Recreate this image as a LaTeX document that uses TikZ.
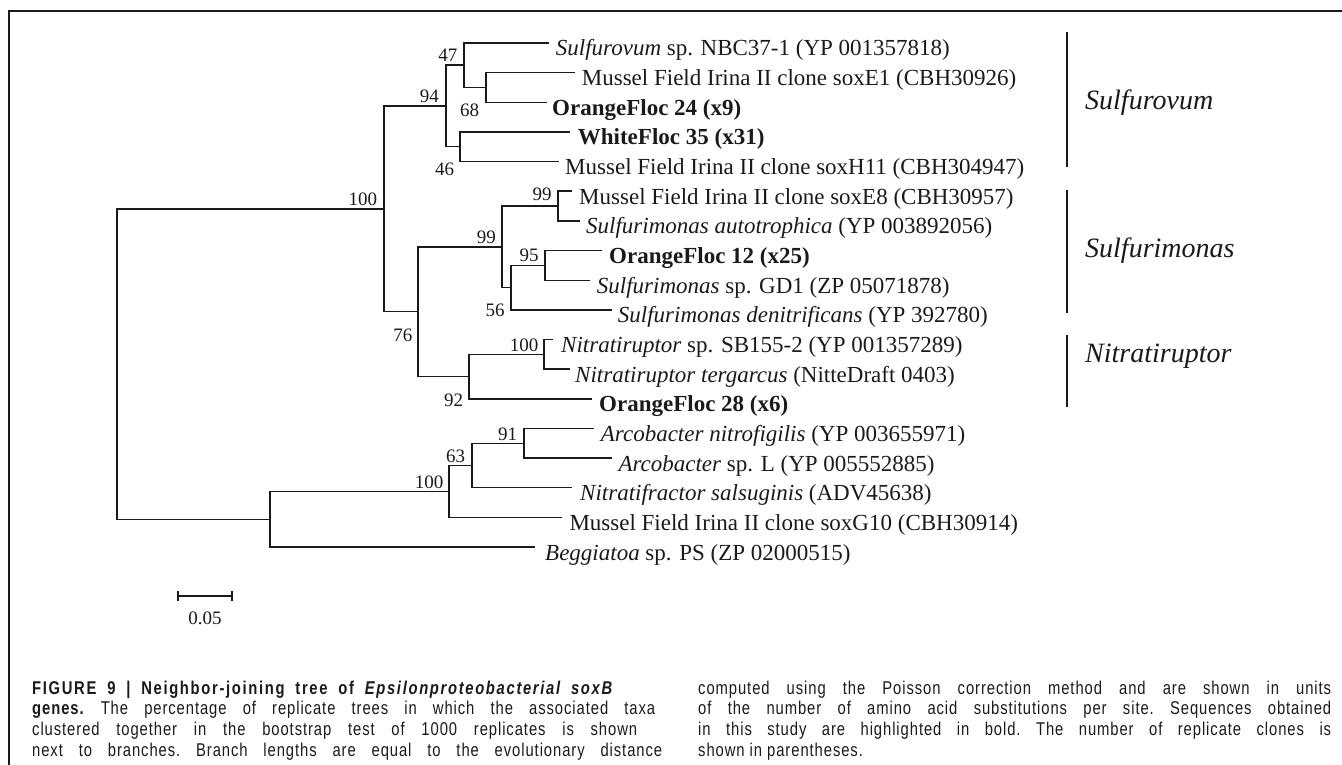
\documentclass[tikz,border=0pt]{standalone}
\usepackage{fontspec}
\setmainfont{Liberation Serif}
\newfontfamily\capfont[FakeStretch=0.8,LetterSpace=5]{Liberation Sans}
\definecolor{ink}{HTML}{1A1A1A}
\begin{document}
\begin{tikzpicture}[x=1pt,y=-1pt,
  br/.style={draw=ink, line width=1.4pt},
  leaf/.style={anchor=base west, inner sep=0pt, text=ink, font=\fontsize{23}{27}\selectfont},
  bs/.style={inner sep=0pt, text=ink, font=\fontsize{19}{22}\selectfont},
  clade/.style={anchor=base west, inner sep=0pt, text=ink, font=\fontsize{28}{32}\selectfont\itshape},
  cladebar/.style={draw=ink, line width=1.5pt},
  capline/.style={anchor=base west, inner sep=0pt, text=ink, font=\capfont\fontsize{18.5}{21}\selectfont\frenchspacing}]
\path[use as bounding box] (0,0) rectangle (1342,765);
% frame
\draw[draw=ink, line width=2pt] (1342,11) -- (9,11) -- (9,765);

% internal nodes
\coordinate (root) at (117,364);
\coordinate (n100a) at (384,208.8);
\coordinate (nB) at (270,519.2);
\coordinate (n94) at (446,105.9);
\coordinate (n76) at (418,311.7);
\coordinate (n47) at (464,65);
\coordinate (n46) at (460,146.7);
\coordinate (n68) at (486,87.5);
\coordinate (n99a) at (502,246.8);
\coordinate (n92) at (469,376.5);
\coordinate (n99b) at (558,206);
\coordinate (n56) at (511,287.6);
\coordinate (n95) at (545,265.4);
\coordinate (n100c) at (544,354.3);
\coordinate (n100b) at (449,491.4);
\coordinate (n63) at (472,465.5);
\coordinate (n91) at (524,443.3);
% tips
\coordinate (t1) at (549,43);
\coordinate (t2) at (575,72.6);
\coordinate (t3) at (547,102.3);
\coordinate (t4) at (570,131.9);
\coordinate (t5) at (559,161.6);
\coordinate (t6) at (572,191.2);
\coordinate (t7) at (580,220.9);
\coordinate (t8) at (602,250.5);
\coordinate (t9) at (590,280.2);
\coordinate (t10) at (612,309.8);
\coordinate (t11) at (553,339.5);
\coordinate (t12) at (570,369.1);
\coordinate (t13) at (592,398.8);
\coordinate (t14) at (594,428.4);
\coordinate (t15) at (612,458.1);
\coordinate (t16) at (572,487.7);
\coordinate (t17) at (562,517.4);
\coordinate (t18) at (535,547);

\foreach \p/\c in {root/n100a, root/nB, n100a/n94, n100a/n76, n94/n47, n94/n46,
  n47/t1, n47/n68, n68/t2, n68/t3, n46/t4, n46/t5, n76/n99a, n76/n92,
  n99a/n99b, n99a/n56, n99b/t6, n99b/t7, n56/n95, n56/t10, n95/t8, n95/t9,
  n92/n100c, n92/t13, n100c/t11, n100c/t12, nB/n100b, nB/t18,
  n100b/n63, n100b/t17, n63/n91, n63/t16, n91/t14, n91/t15}
  \draw[br] (\p) |- (\c);

% leaf labels
\node[leaf] (L1) at (555.7,56) {\textit{Sulfurovum} sp. NBC37-1 (YP 001357818)};
\node[leaf] (L2) at (581.7,85.6) {Mussel Field Irina II clone soxE1 (CBH30926)};
\node[leaf] (L3) at (552,115.3) {\textbf{OrangeFloc 24 (x9)}};
\node[leaf] (L4) at (577.7,144.9) {\textbf{WhiteFloc 35 (x31)}};
\node[leaf] (L5) at (565,174.6) {Mussel Field Irina II clone soxH11 (CBH304947)};
\node[leaf] (L6) at (579,204.2) {Mussel Field Irina II clone soxE8 (CBH30957)};
\node[leaf] (L7) at (586,233.9) {\textit{Sulfurimonas autotrophica} (YP 003892056)};
\node[leaf] (L8) at (609,263.5) {\textbf{OrangeFloc 12 (x25)}};
\node[leaf] (L9) at (596.7,293.2) {\textit{Sulfurimonas} sp. GD1 (ZP 05071878)};
\node[leaf] (L10) at (617.7,322.8) {\textit{Sulfurimonas denitrificans} (YP 392780)};
\node[leaf] (L11) at (561,352.5) {\textit{Nitratiruptor} sp. SB155-2 (YP 001357289)};
\node[leaf] (L12) at (575,382.1) {\textit{Nitratiruptor tergarcus} (NitteDraft 0403)};
\node[leaf] (L13) at (599,411.8) {\textbf{OrangeFloc 28 (x6)}};
\node[leaf] (L14) at (600.7,441.4) {\textit{Arcobacter nitrofigilis} (YP 003655971)};
\node[leaf] (L15) at (618.3,471.1) {\textit{Arcobacter} sp. L (YP 005552885)};
\node[leaf] (L16) at (580,500.7) {\textit{Nitratifractor salsuginis} (ADV45638)};
\node[leaf] (L17) at (569.3,530.4) {Mussel Field Irina II clone soxG10 (CBH30914)};
\node[leaf] (L18) at (545,560) {\textit{Beggiatoa} sp. PS (ZP 02000515)};

% bootstrap values
\node[bs] (b47) at (447.8,55.5) {47};
\node[bs] (b94) at (429.3,96.3) {94};
\node[bs] (b68) at (469.7,110.3) {68};
\node[bs] (b46) at (444.5,169.7) {46};
\node[bs] (b100a) at (362.8,199.3) {100};
\node[bs] (b99b) at (542.2,194.7) {99};
\node[bs] (b99a) at (486.3,237.5) {99};
\node[bs] (b95) at (529.2,255.8) {95};
\node[bs] (b56) at (495,310.7) {56};
\node[bs] (b76) at (402.8,335.2) {76};
\node[bs] (b100c) at (524.2,345) {100};
\node[bs] (b92) at (453.7,400.7) {92};
\node[bs] (b91) at (507.5,434.5) {91};
\node[bs] (b63) at (455.5,456.7) {63};
\node[bs] (b100b) at (429,482.7) {100};

% clade bars and labels
\coordinate (c1a) at (1067,32);  \coordinate (c1b) at (1067,167);
\coordinate (c2a) at (1067,190); \coordinate (c2b) at (1067,313);
\coordinate (c3a) at (1067,335); \coordinate (c3b) at (1067,407);
\draw[cladebar] (c1a) -- (c1b);
\draw[cladebar] (c2a) -- (c2b);
\draw[cladebar] (c3a) -- (c3b);
\node[clade] (k1) at (1085,109.5) {Sulfurovum};
\node[clade] (k2) at (1085,257) {Sulfurimonas};
\node[clade] (k3) at (1085,362) {Nitratiruptor};

% scale bar
\coordinate (s1) at (178,596);
\coordinate (s2) at (232,596);
\draw[br] (s1) -- (s2);
\draw[br] ([yshift=5pt]s1) -- ([yshift=-5pt]s1);
\draw[br] ([yshift=5pt]s2) -- ([yshift=-5pt]s2);
\node[bs] (sl) at (205,618) {0.05};

% caption, left column
\node[capline] (cl1) at (32,694) {\addfontfeatures{LetterSpace=9}\makebox[580pt][s]{\bfseries FIGURE 9 | Neighbor-joining tree of \itshape Epsilonproteobacterial soxB}};
\node[capline] (cl2) at (32,714.7) {\makebox[623pt][s]{\textbf{genes.} The percentage of replicate trees in which the associated taxa}};
\node[capline] (cl3) at (32,735.3) {\makebox[605pt][s]{clustered together in the bootstrap test of 1000 replicates is shown}};
\node[capline] (cl4) at (32,756) {\makebox[630pt][s]{next to branches. Branch lengths are equal to the evolutionary distance}};
% caption, right column
\node[capline] (cr1) at (698,694) {\makebox[633pt][s]{computed using the Poisson correction method and are shown in units}};
\node[capline] (cr2) at (698,714.7) {\makebox[633pt][s]{of the number of amino acid substitutions per site. Sequences obtained}};
\node[capline] (cr3) at (698,735.3) {\makebox[633pt][s]{in this study are highlighted in bold. The number of replicate clones is}};
\node[capline] (cr4) at (698,756) {shown in parentheses.};
\end{tikzpicture}
\end{document}
